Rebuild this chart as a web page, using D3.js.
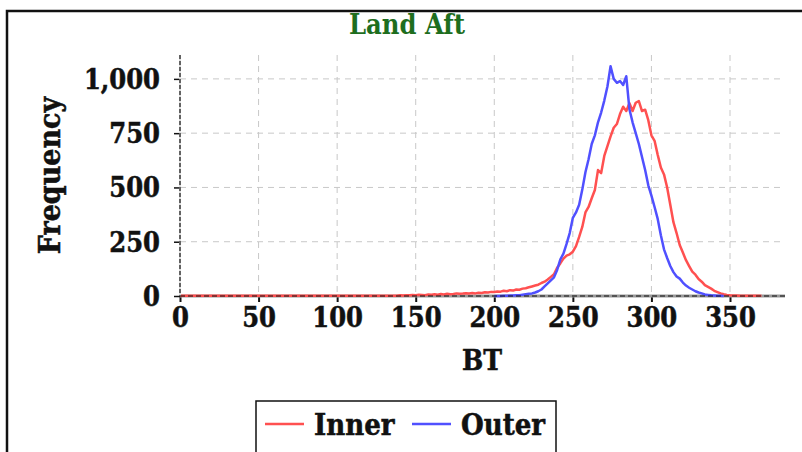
<!DOCTYPE html>
<html>
<head>
<meta charset="utf-8">
<script src="https://cdn.jsdelivr.net/npm/d3@7"></script>
<style>
  body { margin: 0; background: #fff; }
  svg { display: block; }
  text { font-family: "DejaVu Serif Condensed", "DejaVu Serif", serif; font-weight: bold; }
</style>
</head>
<body>
<svg></svg>
<script>
// BT bins (step of 2) and counts per bin
let innerBT = [0, 138, 140, 142, 144, 146, 148, 150, 152, 154, 156, 158, 160, 162, 164, 166, 168, 170,
  172, 174, 176, 178, 180, 182, 184, 186, 188, 190, 192, 194, 196, 198, 200, 202, 204, 206, 208,
  210, 212, 214, 216, 218, 220, 222, 224, 226, 228, 230, 232, 234, 236, 238, 240, 242, 244, 246,
  248, 250, 252, 254, 256, 258, 260, 262, 264, 266, 268, 270, 272, 274, 276, 278, 280, 282, 284,
  286, 288, 290, 292, 294, 296, 298, 300, 302, 304, 306, 308, 310, 312, 314, 316, 318, 320, 322,
  324, 326, 328, 330, 332, 334, 336, 338, 340, 342, 344, 346, 348, 350, 352, 354, 356, 358, 360,
  362, 364, 366, 368, 370]
let inner = [1, 1, 3, 2, 4, 3, 5, 4, 6, 5, 4, 7, 6, 8, 6, 9, 7, 10,
  8, 9, 12, 10, 11, 13, 12, 14, 12, 15, 14, 17, 16, 19, 18, 21, 20, 24, 22,
  27, 25, 30, 29, 34, 36, 40, 44, 48, 52, 60, 66, 76, 88, 100, 130, 150, 172, 186,
  192, 204, 230, 272, 318, 385, 410, 450, 488, 580, 566, 645, 690, 735, 775, 792, 838, 872, 852,
  888, 852, 890, 898, 852, 858, 810, 740, 715, 650, 592, 560, 500, 420, 340, 290, 235, 200, 165,
  138, 112, 98, 78, 66, 50, 42, 34, 24, 18, 12, 8, 5, 3, 2, 2, 1, 1, 1,
  1, 1, 1, 1, 1]

let outerBT = [200, 202, 204, 206, 208, 210, 212, 214, 216, 218, 220, 222, 224, 226, 228, 230, 232,
  234, 236, 238, 240, 242, 244, 246, 248, 250, 252, 254, 256, 258, 260, 262, 264, 266, 268, 270,
  272, 274, 276, 278, 280, 282, 284, 286, 288, 290, 292, 294, 296, 298, 300, 302, 304, 306, 308,
  310, 312, 314, 316, 318, 320, 322, 324, 326, 328, 330, 332, 334, 336, 338, 340, 342, 344, 346]
let outer = [0, 0, 0, 1, 1, 2, 2, 3, 4, 6, 8, 10, 12, 16, 22, 30, 44,
  58, 72, 86, 120, 168, 195, 240, 290, 360, 385, 420, 490, 570, 630, 700, 740, 800, 845, 900,
  965, 1058, 1000, 982, 990, 972, 1012, 860, 800, 750, 700, 640, 580, 510, 462, 410, 355, 280, 215,
  175, 138, 110, 90, 80, 62, 48, 38, 30, 22, 16, 12, 7, 5, 3, 2, 1, 1, 0]

let xTicks = [0, 50, 100, 150, 200, 250, 300, 350]
let yTicks = [0, 250, 500, 750, 1000]

let width = 802
let height = 452
let plotLeft = 180
let plotRight = 785
let plotTop = 55
let plotBottom = 296

let svg = d3.select('svg').attr('width', width).attr('height', height)

// outer frame (only top and left edges visible)
svg.append('rect')
    .attr('x', 7).attr('y', 11)
    .attr('width', 900).attr('height', 600)
    .attr('fill', 'none')
    .attr('stroke', '#111')
    .attr('stroke-width', 2.5)

let xScale = d3.scaleLinear().domain([0, 385]).range([plotLeft, plotRight])
let yScale = d3.scaleLinear().domain([0, 1110]).range([plotBottom, plotTop])

// grid
svg.append('g').selectAll('line')
    .data(xTicks.slice(1))
    .enter().append('line')
    .attr('x1', d => xScale(d)).attr('x2', d => xScale(d))
    .attr('y1', plotTop).attr('y2', plotBottom)
    .attr('stroke', '#c8c8c8').attr('stroke-dasharray', '6,5')

svg.append('g').selectAll('line')
    .data(yTicks.slice(1))
    .enter().append('line')
    .attr('x1', plotLeft).attr('x2', plotRight)
    .attr('y1', d => yScale(d)).attr('y2', d => yScale(d))
    .attr('stroke', '#c8c8c8').attr('stroke-dasharray', '6,5')

// axes
let xAxis = d3.axisBottom(xScale).tickValues(xTicks).tickSize(6).tickSizeOuter(0).tickPadding(6)
let yAxis = d3.axisLeft(yScale).tickValues(yTicks).tickSize(6).tickSizeOuter(0).tickPadding(14)
    .tickFormat(d3.format(','))

let gx = svg.append('g')
    .attr('transform', 'translate(0,' + plotBottom + ')')
    .call(xAxis)
gx.select('.domain').remove()
gx.selectAll('line').attr('stroke', '#111').attr('stroke-width', 2)
gx.selectAll('text')
    .style('font-size', '27px')
    .attr('fill', '#111')
    .attr('stroke', '#111').attr('stroke-width', 0.5)

let gy = svg.append('g')
    .attr('transform', 'translate(' + plotLeft + ',0)')
    .call(yAxis)
gy.select('.domain').remove()
gy.selectAll('line').attr('stroke', '#111').attr('stroke-width', 1.5)
gy.selectAll('text')
    .style('font-size', '27px')
    .attr('dy', '0.35em')
    .attr('fill', '#111')
    .attr('stroke', '#111').attr('stroke-width', 0.5)

// lines
let line = d3.line()
    .x(d => xScale(d[0]))
    .y(d => yScale(d[1]))

let innerData = innerBT.map((b, i) => [b, inner[i]])
let outerData = outerBT.map((b, i) => [b, outer[i]])

// x axis line: grey base
svg.append('line')
    .attr('x1', plotLeft).attr('x2', plotRight)
    .attr('y1', plotBottom).attr('y2', plotBottom)
    .attr('stroke', '#999').attr('stroke-width', 3)

svg.append('path')
    .datum(innerData)
    .attr('d', line)
    .attr('fill', 'none')
    .attr('stroke', '#ff5050')
    .attr('stroke-width', 2.5)
    .attr('stroke-linejoin', 'round')

svg.append('path')
    .datum(outerData)
    .attr('d', line)
    .attr('fill', 'none')
    .attr('stroke', '#5050ff')
    .attr('stroke-width', 2.5)
    .attr('stroke-linejoin', 'round')

// dashed zero lines over axes
svg.append('line')
    .attr('x1', plotLeft).attr('x2', plotRight)
    .attr('y1', plotBottom).attr('y2', plotBottom)
    .attr('stroke', '#111').attr('stroke-width', 1.2)
    .attr('stroke-dasharray', '5,3')

svg.append('line')
    .attr('x1', plotLeft).attr('x2', plotLeft)
    .attr('y1', plotTop).attr('y2', plotBottom)
    .attr('stroke', '#ddd').attr('stroke-width', 2)
svg.append('line')
    .attr('x1', plotLeft).attr('x2', plotLeft)
    .attr('y1', plotTop).attr('y2', plotBottom)
    .attr('stroke', '#111').attr('stroke-width', 1.2)
    .attr('stroke-dasharray', '4,2')

// title and labels
svg.append('text')
    .attr('x', 407).attr('y', 34)
    .attr('text-anchor', 'middle')
    .attr('fill', '#1e6e1e')
    .style('font-size', '27px')
    .text('Land Aft')

svg.append('text')
    .attr('transform', 'translate(60,' + ((plotTop + plotBottom) / 2) + ') rotate(-90)')
    .attr('text-anchor', 'middle')
    .attr('fill', '#111')
    .attr('stroke', '#111').attr('stroke-width', 0.5)
    .style('font-size', '30px')
    .text('Frequency')

svg.append('text')
    .attr('x', 482).attr('y', 370)
    .attr('text-anchor', 'middle')
    .attr('fill', '#111')
    .attr('stroke', '#111').attr('stroke-width', 0.5)
    .style('font-size', '28px')
    .text('BT')

// legend
let legend = svg.append('g')
legend.append('rect')
    .attr('x', 256).attr('y', 401)
    .attr('width', 300).attr('height', 70)
    .attr('fill', '#fff')
    .attr('stroke', '#111')
    .attr('stroke-width', 1.5)

let legendItems = [
    { name: 'Inner', color: '#ff5050', x: 265 },
    { name: 'Outer', color: '#5050ff', x: 412 }
]
legendItems.forEach(item => {
    legend.append('line')
        .attr('x1', item.x).attr('x2', item.x + 39)
        .attr('y1', 424).attr('y2', 424)
        .attr('stroke', item.color).attr('stroke-width', 2.5)
    legend.append('text')
        .attr('x', item.x + 49).attr('y', 435)
        .attr('fill', '#111')
        .attr('stroke', '#111').attr('stroke-width', 0.5)
        .style('font-size', '29px')
        .text(item.name)
})
</script>
</body>
</html>
